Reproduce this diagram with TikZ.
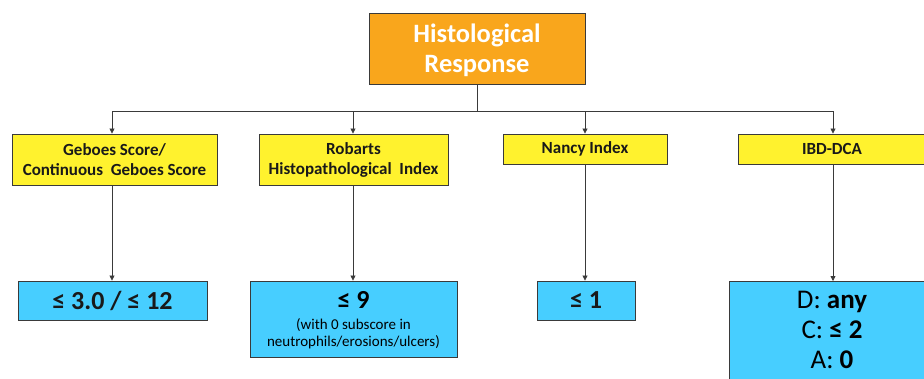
\documentclass[tikz,border=0pt]{standalone}
\usepackage{fontspec}
\setmainfont{Carlito}
\usetikzlibrary{arrows.meta}
\definecolor{orangeF}{HTML}{F9A61C}
\definecolor{yellowF}{HTML}{FFF22E}
\definecolor{blueF}{HTML}{47CEFF}
\definecolor{edge}{HTML}{3A3A3A}
\begin{document}
\begin{tikzpicture}[x=1pt,y=-1pt,
  box/.style={draw=edge,line width=0.9pt,inner sep=0pt,align=center,text=black!90},
  topbox/.style={box,fill=orangeF,text=white,font=\fontsize{26.5}{30}\selectfont\bfseries},
  ybox/.style={box,fill=yellowF,font=\fontsize{17}{20}\selectfont\bfseries},
  bbox/.style={box,fill=blueF},
  conn/.style={draw=edge,line width=0.8pt},
  arr/.style={conn,-{Triangle[length=5pt,width=5pt]}}]
\clip (0,0) rectangle (924,378);
\fill[white] (0,0) rectangle (924,378);
\node[draw=edge,line width=0.9pt,fill=orangeF,minimum width=216,minimum height=71] (top) at (477,48.5) {};
\node[inner sep=0pt,align=center,text=white,font=\fontsize{26.5}{30}\selectfont\bfseries] (topt) at (477,50.5) {Histological\\Response};
\node[ybox,minimum width=205,minimum height=51] (y1) at (114.5,159.5) {Geboes Score/\\Continuous~ Geboes Score};
\node[ybox,minimum width=189,minimum height=51] (y2) at (353.5,159.5) {Robarts\\Histopathological~ Index};
\node[ybox,minimum width=164,minimum height=30] (y3) at (585,149) {Nancy Index};
\node[ybox,minimum width=188,minimum height=30] (y4) at (832,149) {IBD-DCA};
\node[bbox,minimum width=189,minimum height=39,font=\fontsize{26}{28}\selectfont\bfseries] (b1) at (112.5,300.5) {≤ 3.0 / ≤ 12};
\node[bbox,minimum width=207,minimum height=76] (b2) at (353.5,319) {};
\node[inner sep=0pt,align=center,anchor=north,font=\fontsize{15}{17}\selectfont] (b2t) at (353.5,291) {\textbf{\fontsize{26}{26}\selectfont ≤ 9}\\[4pt](with 0 subscore in\\neutrophils/erosions/ulcers)};
\node[bbox,minimum width=98,minimum height=39,font=\fontsize{26}{28}\selectfont\bfseries] (b3) at (586,300.5) {≤ 1};
\node[bbox,minimum width=197,minimum height=130,anchor=north] (b4) at (827.5,281) {};
\node[font=\fontsize{27}{30}\selectfont,align=center,anchor=north,inner sep=0pt] (b4t) at (832,291) {D: \textbf{any}\\C: \textbf{≤ 2}\\A: \textbf{0}};
\coordinate (bus) at (477,111);
\coordinate (k1) at (112,111);
\coordinate (k2) at (353,111);
\coordinate (k3) at (585,111);
\coordinate (k4) at (833,111);
\draw[conn] (top.south) -- (bus);
\draw[conn] (k1) -- (k4);
\draw[arr] (k1) -- (k1 |- y1.north);
\draw[arr] (k2) -- (k2 |- y2.north);
\draw[arr] (k3) -- (k3 |- y3.north);
\draw[arr] (k4) -- (k4 |- y4.north);
\draw[arr] (k1 |- y1.south) -- (k1 |- b1.north);
\draw[arr] (k2 |- y2.south) -- (k2 |- b2.north);
\draw[arr] (k3 |- y3.south) -- (k3 |- b3.north);
\draw[arr] (k4 |- y4.south) -- (k4 |- b4.north);
\end{tikzpicture}
\end{document}
